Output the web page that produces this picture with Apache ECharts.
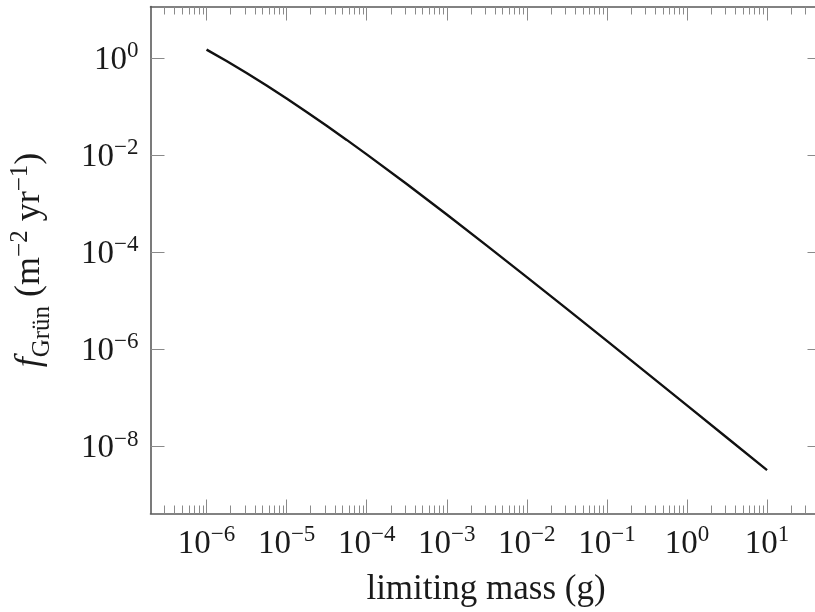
<!DOCTYPE html>
<html><head><meta charset="utf-8">
<script src="https://cdn.jsdelivr.net/npm/echarts@6/dist/echarts.min.js"></script>
<style>html,body{margin:0;padding:0;background:#fff}#c{width:815px;height:612px}</style>
</head><body><div id="c"></div>
<script>
// limiting mass (g)
const mass = [1e-6, 1.778e-6, 3.162e-6, 5.623e-6, 1e-5, 1.778e-5, 3.162e-5, 5.623e-5, 1e-4,
  3.162e-4, 1e-3, 3.162e-3, 1e-2, 3.162e-2, 0.1, 0.3162, 1, 3.162, 10];
// f_Grün (m^-2 yr^-1)
const flux = [1.485, 0.864, 0.490, 0.271, 0.1463, 0.0774, 0.0402, 0.02056, 0.01035,
  2.533e-3, 5.963e-4, 1.368e-4, 3.074e-5, 6.81e-6, 1.491e-6, 3.244e-7, 7.02e-8, 1.514e-8, 3.254e-9];
// tick labels
const xTickValues = [1e-6, 1e-5, 1e-4, 1e-3, 1e-2, 1e-1, 1, 10];
const yTickValues = [1, 1e-2, 1e-4, 1e-6, 1e-8];

const X_MIN = Math.pow(10, -6.7), X_MAX = Math.pow(10, 1.68);
const Y_MIN = Math.pow(10, -9.38), Y_MAX = Math.pow(10, 1.06);

const xMinor = [];
for (let n = -7; n <= 1; n++) {
  for (let k = 2; k <= 9; k++) {
    const v = k * Math.pow(10, n);
    if (v > 2.5e-7 && v < X_MAX) xMinor.push(v);
  }
}

const FONT = 'Liberation Serif';
const TXT = '#1a1a1a';
const TICK = '#8a8a8a';
const FRAME = { show: true, lineStyle: { color: '#5a5a5a', width: 1.6 } };
const labelRich = {
  b: { fontSize: 33, fontFamily: FONT, color: TXT, verticalAlign: 'bottom' },
  s: { fontSize: 23, fontFamily: FONT, color: TXT, verticalAlign: 'bottom', padding: [0, 0, 14, 0] }
};
function powLabel(v) {
  const e = Math.round(Math.log10(v));
  return '{b|10}{s|' + String(e).replace('-', '\u2212') + '}';
}

const data = mass.map((m, i) => [m, flux[i]]);

const baseX = (pos, ticks, len, extra) => Object.assign({
  type: 'log', logBase: 10, position: pos, gridIndex: 0,
  min: X_MIN, max: X_MAX,
  axisLine: { show: false },
  splitLine: { show: false },
  minorTick: { show: false },
  axisTick: { show: true, inside: true, length: len, customValues: ticks, lineStyle: { color: TICK, width: 1 } },
  axisLabel: { show: false }
}, extra || {});

const option = {
  animation: false,
  backgroundColor: '#fff',
  grid: { left: 150.5, top: 6.5, width: 671, height: 507, outerBoundsMode: 'none', containLabel: false, show: false },
  xAxis: [
    baseX('bottom', xTickValues, 14, {
      axisLine: FRAME,
      name: 'limiting mass (g)', nameLocation: 'middle', nameGap: 59,
      nameTextStyle: { fontSize: 35, fontFamily: FONT, color: TXT },
      axisLabel: { show: true, customValues: xTickValues, margin: 10, formatter: powLabel, rich: labelRich }
    }),
    baseX('bottom', xMinor, 8),
    baseX('top', xTickValues, 14, { axisLine: FRAME }),
    baseX('top', xMinor, 8)
  ],
  yAxis: [
    {
      type: 'log', logBase: 10, position: 'left', min: Y_MIN, max: Y_MAX,
      axisLine: FRAME, splitLine: { show: false }, minorTick: { show: false },
      axisTick: { show: true, inside: true, length: 14, customValues: yTickValues, lineStyle: { color: TICK, width: 1 } },
      axisLabel: { show: true, customValues: yTickValues, margin: 12, formatter: powLabel, rich: labelRich },
      name: '{i|f}{sub|Grün}{b| (m}{sup|\u22122}{b| yr}{sup|\u22121}{b|)}',
      nameLocation: 'middle', nameRotate: 90, nameGap: 96,
      nameTextStyle: {
        fontSize: 36, fontFamily: FONT, color: TXT,
        rich: {
          i: { fontSize: 36, fontFamily: FONT, fontStyle: 'italic', color: TXT, verticalAlign: 'bottom', padding: [0, 0, 7, 0] },
          sub: { fontSize: 25, fontFamily: FONT, color: TXT, verticalAlign: 'bottom' },
          b: { fontSize: 36, fontFamily: FONT, color: TXT, verticalAlign: 'bottom', padding: [0, 0, 7, 0] },
          sup: { fontSize: 25, fontFamily: FONT, color: TXT, verticalAlign: 'bottom', padding: [0, 0, 22, 0] }
        }
      }
    },
    {
      type: 'log', logBase: 10, position: 'right', min: Y_MIN, max: Y_MAX,
      axisLine: { show: false }, splitLine: { show: false }, minorTick: { show: false },
      axisTick: { show: true, inside: true, length: 14, customValues: yTickValues, lineStyle: { color: TICK, width: 1 } },
      axisLabel: { show: false }
    }
  ],
  series: [{
    type: 'line', xAxisIndex: 0, yAxisIndex: 0, data: data,
    showSymbol: false, symbol: 'none', smooth: false,
    lineStyle: { color: '#111', width: 2.4 }
  }]
};
const chart = echarts.init(document.getElementById('c'), null, { renderer: 'canvas' });
chart.setOption(option);
</script>
</body></html>
